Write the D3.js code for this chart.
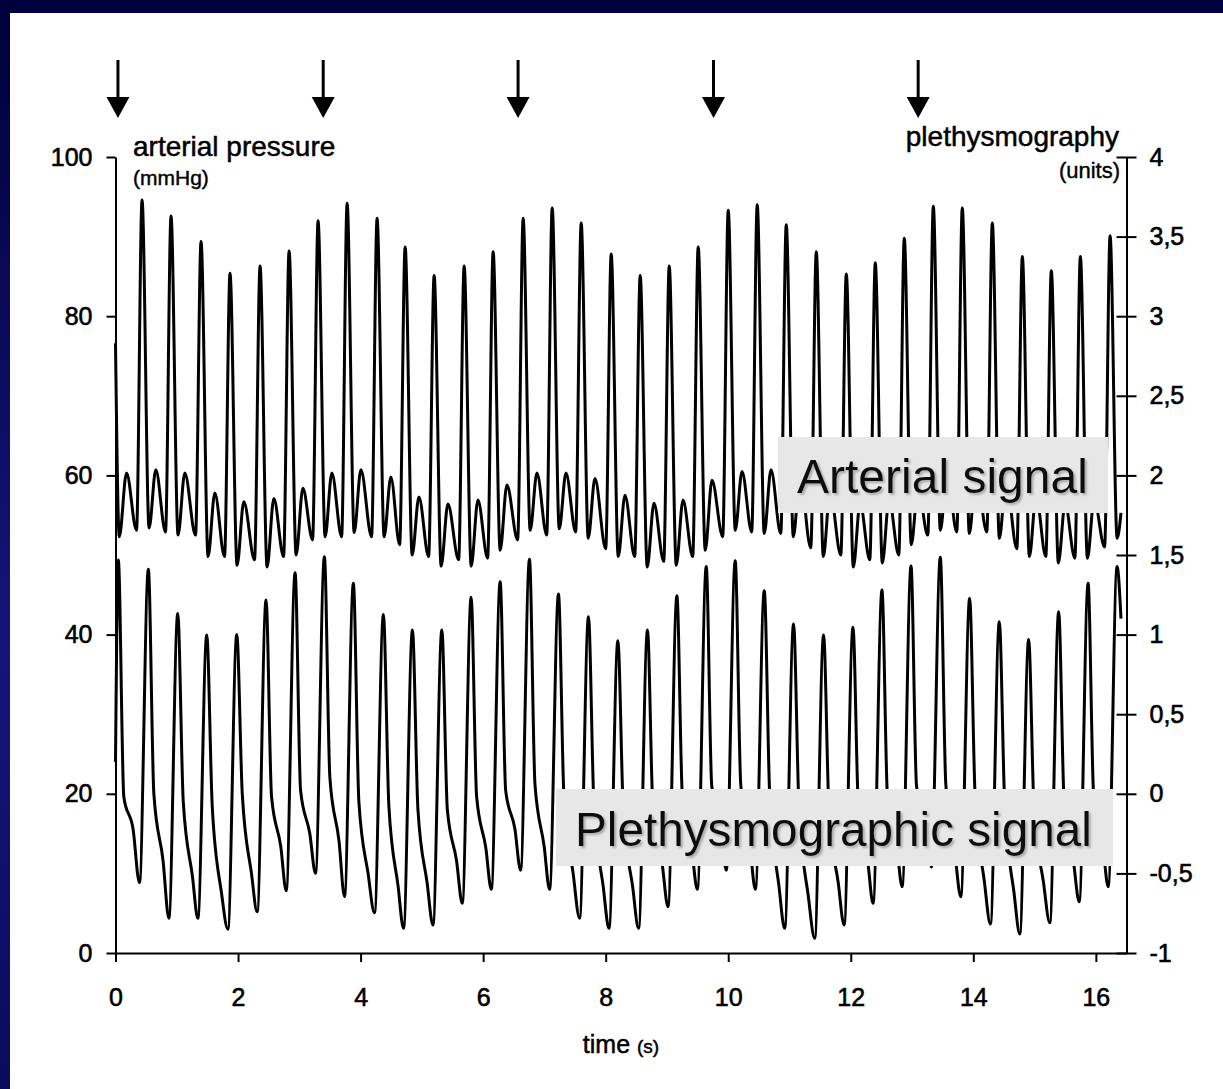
<!DOCTYPE html>
<html><head><meta charset="utf-8">
<script src="https://cdn.jsdelivr.net/npm/d3@7"></script>
<style>html,body{margin:0;padding:0;background:#fff;overflow:hidden}</style>
</head><body>
<svg id="c" width="1223" height="1089"></svg>
<script>
// ---------------- data ----------------
const arrowTimes = [0.04, 3.39, 6.57, 9.76, 13.1];
const xTicks = [0, 2, 4, 6, 8, 10, 12, 14, 16];
const leftTicks = [0, 20, 40, 60, 80, 100];
const rightTicks = [-1, -0.5, 0, 0.5, 1, 1.5, 2, 2.5, 3, 3.5, 4];
const rightTickLabels = ["-1", "-0,5", "0", "0,5", "1", "1,5", "2", "2,5", "3", "3,5", "4"];

// arterial pressure (mmHg): beat landmarks
const artPeakTimes = [0.433, 0.906, 1.396, 1.869, 2.359, 2.833, 3.306, 3.780, 4.269, 4.727, 5.200, 5.690, 6.163, 6.653, 7.127, 7.600, 8.090, 8.563, 9.037, 9.510, 10.000, 10.473, 10.947, 11.437, 11.927, 12.400, 12.873, 13.347, 13.820, 14.310, 14.800, 15.273, 15.747, 16.232];
const artPeaks = [94.6, 92.6, 89.4, 85.4, 86.3, 88.2, 92.0, 94.2, 92.3, 88.7, 85.1, 86.3, 88.1, 92.3, 93.6, 91.7, 87.8, 85.1, 86.3, 88.7, 93.3, 94.0, 91.5, 88.1, 85.3, 86.7, 89.8, 93.8, 93.6, 91.7, 87.5, 85.7, 87.5, 90.1];
const artFeet = [53.1, 52.9, 52.5, 49.8, 49.4, 49.8, 51.9, 52.3, 52.3, 51.3, 49.8, 49.4, 49.6, 51.9, 52.5, 52.9, 50.8, 49.8, 49.2, 49.8, 52.3, 52.9, 52.7, 50.9, 50.0, 49.4, 50.0, 52.5, 52.9, 52.9, 50.8, 49.8, 49.6, 51.0];
const artNotches = [53.4, 52.5, 49.8, 48.7, 48.5, 50.0, 52.3, 52.8, 52.3, 50.0, 48.6, 48.6, 50.6, 53.1, 53.3, 52.1, 49.8, 48.5, 48.7, 50.6, 53.1, 52.7, 52.3, 49.8, 48.5, 49.0, 51.3, 53.1, 52.7, 52.1, 49.8, 49.0, 49.6, 52.1];
const artBumps = [60.7, 60.3, 57.8, 56.7, 57.1, 58.4, 60.3, 60.7, 59.8, 57.3, 56.4, 56.9, 58.8, 60.3, 60.3, 59.6, 57.5, 56.5, 56.9, 59.4, 60.5, 60.7, 60.0, 58.0, 56.5, 57.0, 58.5, 60.5, 60.5, 59.5, 57.5, 56.5, 57.0];
const artLead = [[0, 76.6], [0.062, 52.3], [0.18, 60.3]];
const artTail = [[16.41, 55.3]];

// plethysmography (units): beat landmarks
const plethPeakTimes = [0.046, 0.536, 1.016, 1.489, 1.979, 2.457, 2.931, 3.409, 3.882, 4.372, 4.846, 5.326, 5.804, 6.278, 6.756, 7.229, 7.719, 8.199, 8.682, 9.162, 9.641, 10.114, 10.588, 11.066, 11.556, 12.036, 12.509, 12.983, 13.461, 13.940, 14.424, 14.903, 15.393, 15.873, 16.346];
const plethPeaks = [1.469, 1.410, 1.133, 0.997, 1.001, 1.217, 1.389, 1.489, 1.322, 1.126, 1.029, 1.029, 1.234, 1.332, 1.473, 1.255, 1.112, 0.962, 1.029, 1.244, 1.427, 1.464, 1.276, 1.067, 0.997, 1.046, 1.280, 1.431, 1.486, 1.228, 1.081, 0.970, 1.144, 1.322, 1.427];
const plethFalls = [-0.02, 0.0, -0.05, -0.08, 0.0, -0.02, 0.02, 0.10, -0.05, -0.08, -0.10, -0.10, -0.02, 0.02, 0.06, -0.02, -0.08, -0.12, -0.10, -0.02, 0.05, 0.06, -0.02, -0.10, -0.12, -0.10, -0.02, 0.05, 0.06, -0.02, -0.08, -0.12, -0.06, 0.0];
const plethShoulders = [-0.22, -0.42, -0.52, -0.62, -0.50, -0.33, -0.25, -0.30, -0.50, -0.58, -0.56, -0.42, -0.34, -0.22, -0.33, -0.50, -0.58, -0.58, -0.44, -0.34, -0.22, -0.33, -0.58, -0.64, -0.56, -0.42, -0.32, -0.20, -0.38, -0.55, -0.62, -0.55, -0.42, -0.32];
const plethTroughs = [-0.558, -0.782, -0.782, -0.851, -0.741, -0.609, -0.499, -0.646, -0.747, -0.845, -0.824, -0.688, -0.60, -0.48, -0.60, -0.782, -0.845, -0.845, -0.709, -0.60, -0.48, -0.60, -0.845, -0.908, -0.824, -0.688, -0.583, -0.46, -0.646, -0.818, -0.88, -0.81, -0.678, -0.583];
const plethLead = [[0, 0.2]];
const plethTail = [[16.41, 1.10]];

// ---------------- build traces from landmarks ----------------
const artSeries = artLead.slice();
artPeakTimes.forEach((tp, i) => {
  artSeries.push([tp - 0.09, artFeet[i]], [tp, artPeaks[i]], [tp + 0.115, artNotches[i]]);
  if (i < artBumps.length) artSeries.push([tp + 0.225, artBumps[i]]);
});
artTail.forEach(p => artSeries.push(p));

const plethSeries = plethLead.slice();
plethPeakTimes.forEach((tp, k) => {
  plethSeries.push([tp, plethPeaks[k]]);
  if (k < plethTroughs.length) {
    plethSeries.push([tp + 0.09, plethFalls[k]], [tp + 0.24, plethShoulders[k]],
                     [plethPeakTimes[k + 1] - 0.145, plethTroughs[k]]);
  }
});
plethTail.forEach(p => plethSeries.push(p));

// ---------------- drawing ----------------
const W = 1223, H = 1089;
const FONT = "'Liberation Sans', Arial, Helvetica, sans-serif";
const svg = d3.select("#c");
const defs = svg.append("defs");
const lg = defs.append("linearGradient").attr("id", "lg").attr("x1", 0).attr("y1", 0).attr("x2", 0).attr("y2", 1);
lg.append("stop").attr("offset", "0%").attr("stop-color", "#00003a");
lg.append("stop").attr("offset", "60%").attr("stop-color", "#15157a");
lg.append("stop").attr("offset", "100%").attr("stop-color", "#0b0b5c");
const f = defs.append("filter").attr("id", "sh").attr("x", "-5%").attr("y", "-10%").attr("width", "115%").attr("height", "130%");
f.append("feDropShadow").attr("dx", 2).attr("dy", 2).attr("stdDeviation", 1.2)
  .attr("flood-color", "#777").attr("flood-opacity", 0.55);

svg.append("rect").attr("width", W).attr("height", H).attr("fill", "#fff");
svg.append("rect").attr("x", 0).attr("y", 0).attr("width", W).attr("height", 13).attr("fill", "#00003e");
svg.append("rect").attr("x", 0).attr("y", 0).attr("width", 10).attr("height", H).attr("fill", "url(#lg)");

const x = d3.scaleLinear().domain([0, 16.5]).range([115.5, 1126.5]);
const yL = d3.scaleLinear().domain([0, 100]).range([953, 157]);
const yR = d3.scaleLinear().domain([-1, 4]).range([953, 157]);

// traces
const lineL = d3.line().curve(d3.curveMonotoneX).x(d => x(d[0])).y(d => yL(d[1]));
const lineR = d3.line().curve(d3.curveMonotoneX).x(d => x(d[0])).y(d => yR(d[1]));
svg.append("path").datum(artSeries).attr("d", lineL)
  .attr("fill", "none").attr("stroke", "#000").attr("stroke-width", 3).attr("stroke-linejoin", "round");
svg.append("path").datum(plethSeries).attr("d", lineR)
  .attr("fill", "none").attr("stroke", "#000").attr("stroke-width", 3).attr("stroke-linejoin", "round");

// text thickening to match the heavier lettering
function heavy(sel, w) {
  sel.attr("stroke", "#000").attr("stroke-width", w).attr("paint-order", "stroke");
}

// axes
function styleAxis(g, size) {
  g.attr("font-family", FONT).attr("font-size", size);
  g.selectAll("path.domain").attr("stroke", "#000").attr("stroke-width", 2);
  g.selectAll(".tick line").attr("stroke", "#000").attr("stroke-width", 2);
  heavy(g.selectAll(".tick text").attr("fill", "#000"), 0.6);
}
const gl = svg.append("g").attr("transform", "translate(115.5,0)")
  .call(d3.axisLeft(yL).tickValues(leftTicks).tickSize(9).tickPadding(14).tickSizeOuter(0));
styleAxis(gl, 25);
const gr = svg.append("g").attr("transform", "translate(1126.5,0)")
  .call(d3.axisRight(yR).tickValues(rightTicks).tickFormat((d, i) => rightTickLabels[i])
    .tickSize(10).tickPadding(13).tickSizeOuter(0));
gr.selectAll(".tick line").attr("x1", -10);
styleAxis(gr, 25);
const gb = svg.append("g").attr("transform", "translate(0,953)")
  .call(d3.axisBottom(x).tickValues(xTicks).tickSize(9).tickPadding(26).tickSizeOuter(0));
styleAxis(gb, 25);

// axis titles
heavy(svg.append("text").attr("x", 133).attr("y", 156).attr("font-family", FONT).attr("font-size", 28).text("arterial pressure"), 0.5);
heavy(svg.append("text").attr("x", 133).attr("y", 185).attr("font-family", FONT).attr("font-size", 21).text("(mmHg)"), 0.4);
heavy(svg.append("text").attr("x", 1119).attr("y", 146).attr("text-anchor", "end").attr("font-family", FONT).attr("font-size", 28).text("plethysmography"), 0.5);
heavy(svg.append("text").attr("x", 1120).attr("y", 178).attr("text-anchor", "end").attr("font-family", FONT).attr("font-size", 22).text("(units)"), 0.4);
const tt = svg.append("text").attr("x", 621).attr("y", 1053).attr("text-anchor", "middle").attr("font-family", FONT);
tt.append("tspan").attr("font-size", 25).text("time ");
tt.append("tspan").attr("font-size", 19).text("(s)");
heavy(tt, 0.5);

// arrows
const ag = svg.append("g");
arrowTimes.forEach(t => {
  const ax = x(t);
  ag.append("line").attr("x1", ax).attr("x2", ax).attr("y1", 60).attr("y2", 100)
    .attr("stroke", "#000").attr("stroke-width", 3);
  ag.append("path").attr("d", `M${ax - 11.5},97 L${ax + 11.5},97 L${ax},118 Z`).attr("fill", "#000");
});

// signal label boxes
svg.append("rect").attr("x", 778).attr("y", 437).attr("width", 330).attr("height", 76).attr("fill", "#e7e7e7");
svg.append("text").attr("x", 797).attr("y", 493).attr("font-family", FONT).attr("font-size", 48)
  .attr("fill", "#111").attr("filter", "url(#sh)").text("Arterial signal");
svg.append("rect").attr("x", 556).attr("y", 789).attr("width", 557).attr("height", 77).attr("fill", "#e7e7e7");
svg.append("text").attr("x", 575).attr("y", 846).attr("font-family", FONT).attr("font-size", 47.7)
  .attr("fill", "#111").attr("filter", "url(#sh)").text("Plethysmographic signal");
</script>
</body></html>
